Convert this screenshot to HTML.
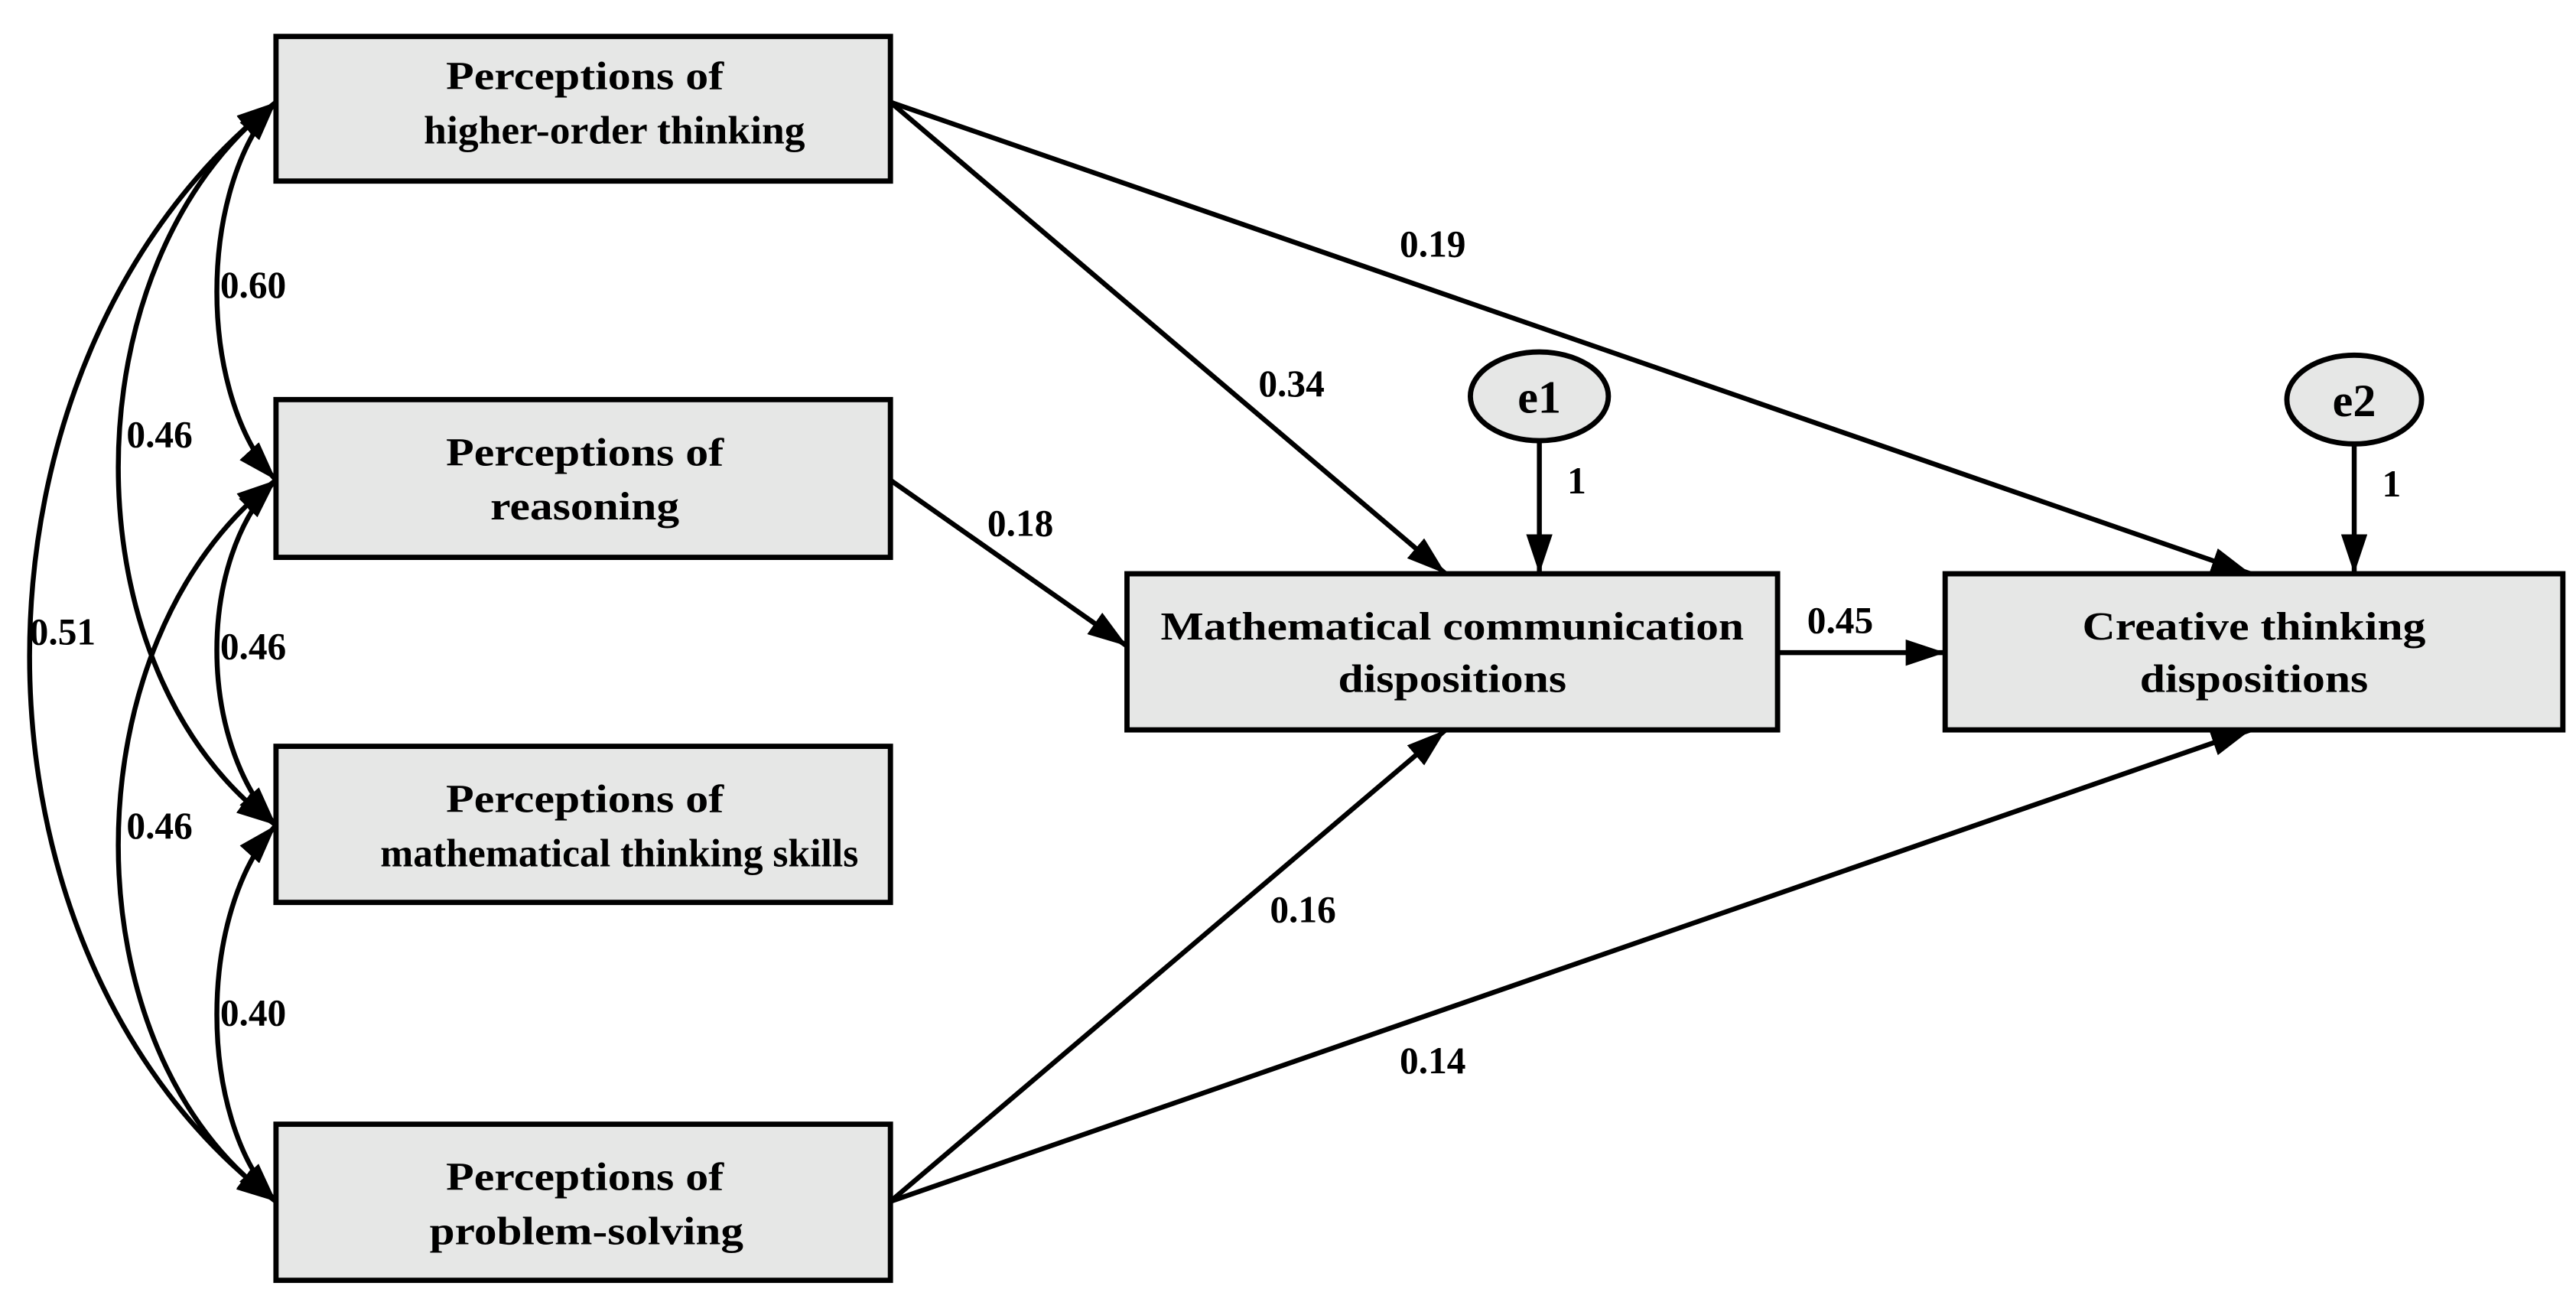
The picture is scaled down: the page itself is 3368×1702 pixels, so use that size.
<!DOCTYPE html>
<html><head><meta charset="utf-8"><style>
html,body{margin:0;padding:0;background:#fff;}
svg{display:block;}
text{font-family:"Liberation Serif",serif;font-weight:bold;fill:#000;}
</style></head><body>
<svg width="3368" height="1702" viewBox="0 0 1568 792" xmlns="http://www.w3.org/2000/svg">
<defs>
<marker id="a" markerUnits="userSpaceOnUse" markerWidth="26" markerHeight="16" refX="24" refY="8" orient="auto-start-reverse" viewBox="0 0 26 16">
<path d="M0,0 L24,8 L0,16 z" fill="#000"/>
</marker>
</defs>
<g fill="#e6e7e6" stroke="#000" stroke-width="3.2">
<rect x="168" y="22" width="374" height="88"/>
<rect x="168" y="243" width="374" height="96"/>
<rect x="168" y="454" width="374" height="95"/>
<rect x="168" y="684" width="374" height="95"/>
<rect x="686" y="349" width="396" height="95"/>
<rect x="1184" y="349" width="376" height="95"/>
<ellipse cx="937" cy="241" rx="42" ry="27"/>
<ellipse cx="1433" cy="243" rx="41" ry="27"/>
</g>
<g fill="none" stroke="#000" stroke-width="3" marker-end="url(#a)">
<line x1="937" y1="268" x2="937" y2="349"/>
<line x1="1433" y1="270" x2="1433" y2="349"/>
<line x1="1082" y1="397" x2="1184" y2="397"/>
<line x1="542" y1="62" x2="880" y2="349"/>
<line x1="542" y1="62" x2="1370" y2="349"/>
<line x1="542" y1="292" x2="686" y2="393"/>
<line x1="542" y1="731" x2="880" y2="444"/>
<line x1="542" y1="731" x2="1370" y2="444"/>
<g marker-start="url(#a)">
<path d="M168,62 C120,115 120,240 168,292"/>
<path d="M168,292 C120,340 120,450 168,502"/>
<path d="M168,502 C120,555 120,680 168,731"/>
<path d="M168,62 C40,160 40,410 168,502"/>
<path d="M168,292 C40,390 40,640 168,731"/>
<path d="M168,62 C-32,220 -32,580 168,731"/>
</g>
</g>
<g font-size="24" text-anchor="middle">
<text x="356" y="54" textLength="169" lengthAdjust="spacingAndGlyphs">Perceptions of</text>
<text x="374" y="87" textLength="232" lengthAdjust="spacingAndGlyphs">higher-order thinking</text>
<text x="356" y="283" textLength="169" lengthAdjust="spacingAndGlyphs">Perceptions of</text>
<text x="356" y="316" textLength="115" lengthAdjust="spacingAndGlyphs">reasoning</text>
<text x="356" y="494" textLength="169" lengthAdjust="spacingAndGlyphs">Perceptions of</text>
<text x="377" y="527" textLength="291" lengthAdjust="spacingAndGlyphs">mathematical thinking skills</text>
<text x="356" y="724" textLength="169" lengthAdjust="spacingAndGlyphs">Perceptions of</text>
<text x="357" y="757" textLength="191" lengthAdjust="spacingAndGlyphs">problem-solving</text>
<text x="884" y="389" textLength="355" lengthAdjust="spacingAndGlyphs">Mathematical communication</text>
<text x="884" y="421" textLength="139" lengthAdjust="spacingAndGlyphs">dispositions</text>
<text x="1372" y="389" textLength="209" lengthAdjust="spacingAndGlyphs">Creative thinking</text>
<text x="1372" y="421" textLength="139" lengthAdjust="spacingAndGlyphs">dispositions</text>
<text x="937" y="251" font-size="28">e1</text>
<text x="1433" y="253" font-size="28">e2</text>
</g>
<g font-size="23">
<text x="134" y="181">0.60</text>
<text x="77" y="272">0.46</text>
<text x="18" y="392">0.51</text>
<text x="134" y="401">0.46</text>
<text x="77" y="510">0.46</text>
<text x="134" y="624">0.40</text>
<text x="766" y="241">0.34</text>
<text x="852" y="156">0.19</text>
<text x="601" y="326">0.18</text>
<text x="1100" y="385">0.45</text>
<text x="773" y="561">0.16</text>
<text x="852" y="653">0.14</text>
<text x="954" y="300">1</text>
<text x="1450" y="302">1</text>
</g>
</svg>
</body></html>
